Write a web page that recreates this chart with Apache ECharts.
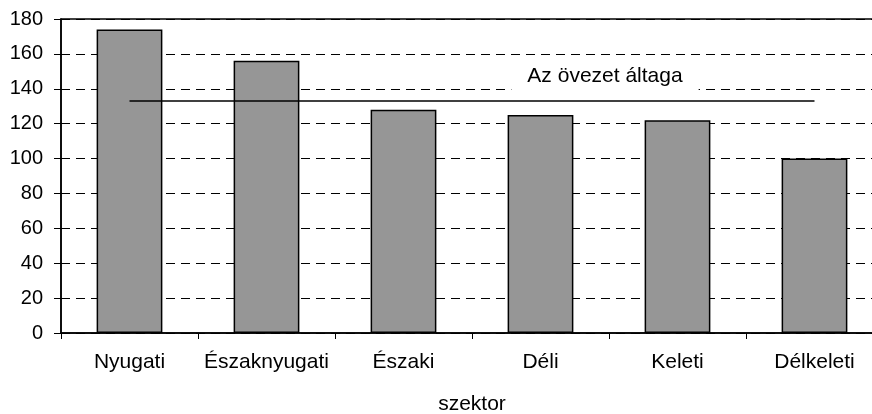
<!DOCTYPE html>
<html>
<head>
<meta charset="utf-8">
<script src="https://cdn.jsdelivr.net/npm/echarts@6/dist/echarts.min.js"></script>
<style>html,body{margin:0;padding:0;background:#fff;}#c{width:872px;height:414px;}</style>
</head>
<body>
<div id="c"></div>
<script>
var categories = ['Nyugati', 'Északnyugati', 'Északi', 'Déli', 'Keleti', 'Délkeleti'];
var values = [174, 156, 128, 125, 122, 100];
var averageValue = 133;
var averageLabel = 'Az övezet áltaga';
var xAxisName = 'szektor';

var chart = echarts.init(document.getElementById('c'));
var font = 'Liberation Sans, Arial, sans-serif';
chart.setOption({
  animation: false,
  backgroundColor: '#fff',
  grid: { left: 61, top: 19, width: 822, bottom: 81, show: true, borderColor: '#000', borderWidth: 1.5, backgroundColor: 'transparent', containLabel: false, outerBoundsMode: 'none' },
  xAxis: {
    type: 'category',
    data: categories,
    name: xAxisName,
    nameLocation: 'middle',
    nameGap: 61,
    nameTextStyle: { color: '#000', fontSize: 21, fontFamily: font },
    axisLine: { lineStyle: { color: '#000', width: 1.5 } },
    axisTick: { show: true, interval: 0, length: 6, lineStyle: { color: '#000', width: 1 } },
    axisLabel: { color: '#000', fontSize: 21, fontFamily: font, margin: 19, interval: 0, hideOverlap: false },
    splitLine: { show: false }
  },
  yAxis: {
    type: 'value',
    min: 0, max: 180, interval: 20,
    axisLine: { show: true, lineStyle: { color: '#000', width: 1.5 } },
    axisTick: { show: true, length: 7, lineStyle: { color: '#000', width: 1 } },
    axisLabel: { color: '#000', fontSize: 20, fontFamily: font, margin: 18 },
    splitLine: { show: true, lineStyle: { color: '#000', width: 1, type: [9, 6] } }
  },
  series: [{
    type: 'bar',
    data: values,
    barWidth: '48%',
    itemStyle: { color: '#969696', borderColor: '#000', borderWidth: 1.5 },
    markLine: {
      silent: true,
      symbol: ['none', 'none'],
      lineStyle: { color: '#000', width: 1.5, type: 'solid' },
      label: {
        show: true,
        position: 'middle',
        formatter: averageLabel,
        color: '#000',
        fontSize: 21,
        fontFamily: font,
        backgroundColor: '#fff',
        padding: [3, 16, 3, 16],
        distance: 11,
        offset: [133, 0]
      },
      data: [[
        { xAxis: 0, yAxis: averageValue },
        { xAxis: categories.length - 1, yAxis: averageValue }
      ]]
    }
  }]
});
</script>
</body>
</html>
